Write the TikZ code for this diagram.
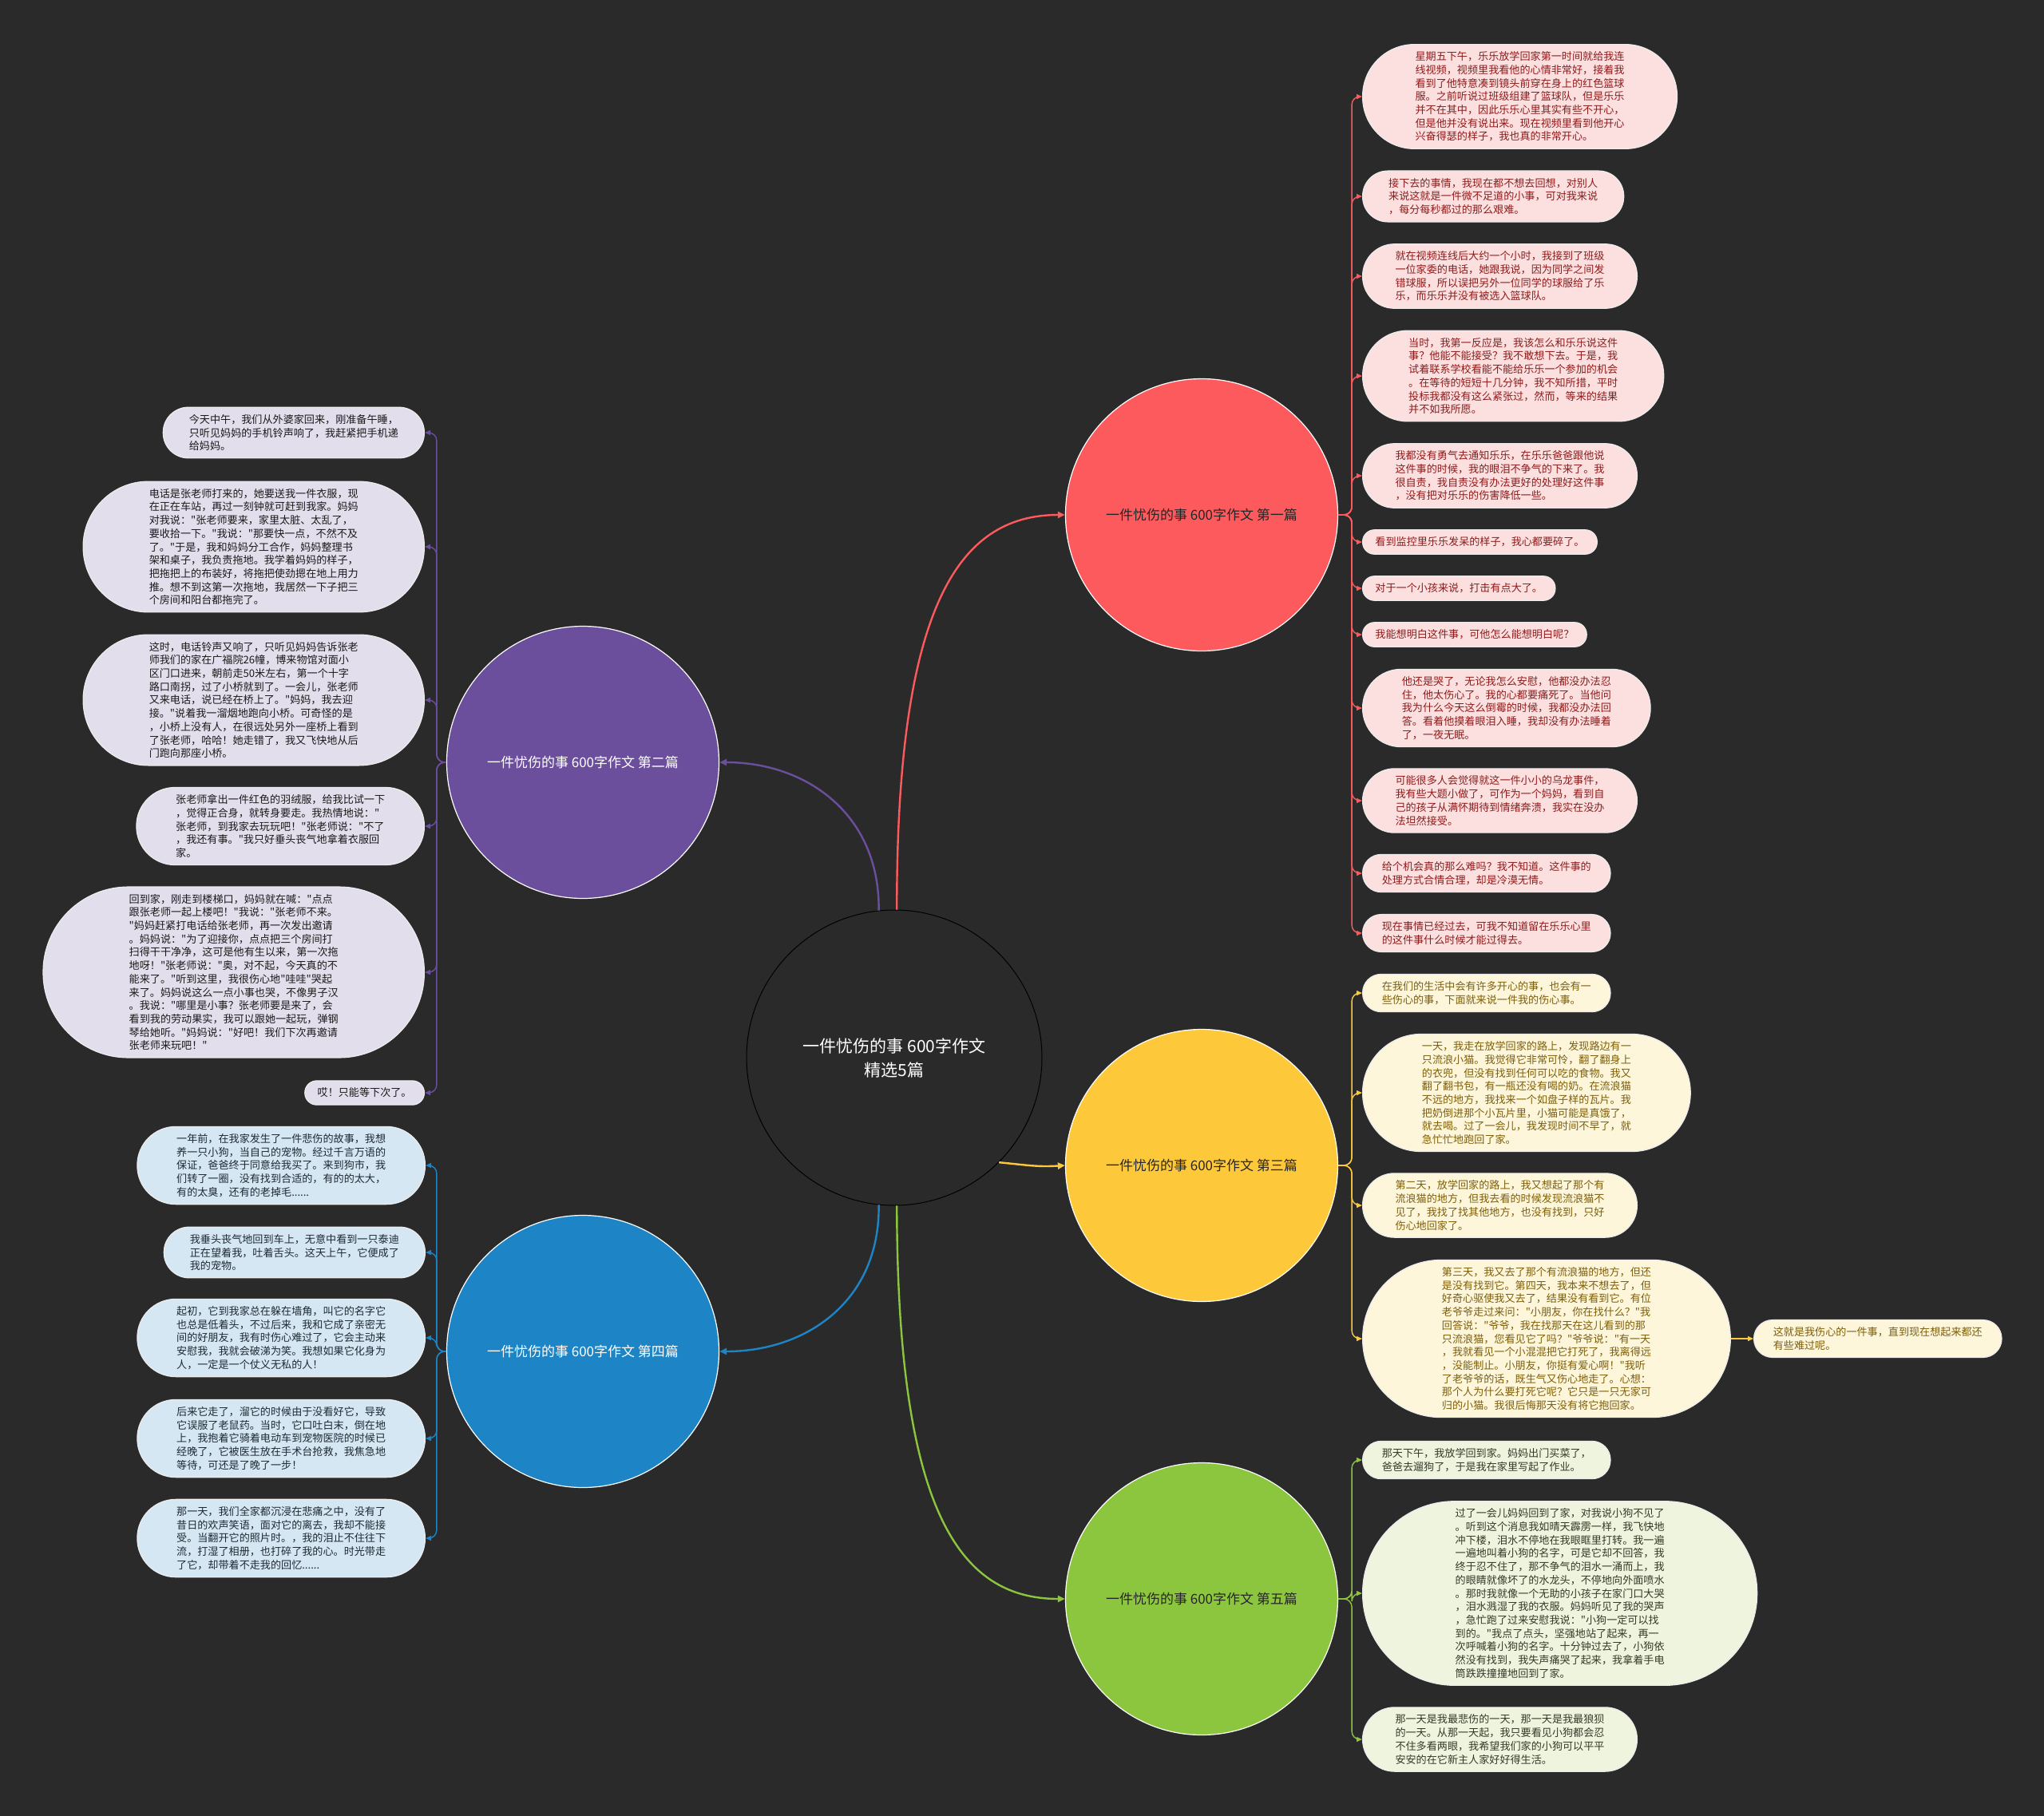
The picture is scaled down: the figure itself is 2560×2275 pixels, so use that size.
\documentclass[tikz,border=0pt]{standalone}
\usepackage{fontspec}
\setmainfont{Noto Sans CJK SC}[Ligatures=TeXOff]
\usetikzlibrary{arrows.meta}
\definecolor{bg}{HTML}{2A2A2A}
\definecolor{cred}{HTML}{FC5A5D}
\definecolor{cpur}{HTML}{6B4F9C}
\definecolor{cyel}{HTML}{FDC93B}
\definecolor{cblu}{HTML}{1D85C6}
\definecolor{cgrn}{HTML}{8CC63F}
\definecolor{lred}{HTML}{FCE0E0}
\definecolor{tred}{HTML}{8E1B1B}
\definecolor{lyel}{HTML}{FDF6DA}
\definecolor{tyel}{HTML}{7D5E0A}
\definecolor{lgrn}{HTML}{EEF4DE}
\definecolor{tgrn}{HTML}{333A28}
\definecolor{lpur}{HTML}{E2DEEC}
\definecolor{tpur}{HTML}{1A1A1A}
\definecolor{lblu}{HTML}{D6E7F4}
\definecolor{tblu}{HTML}{1E2A33}
\begin{document}
\begin{tikzpicture}[x=1pt,y=-1pt,
  leaf/.style={rectangle, inner ysep=9pt, inner xsep={(16.7*#1+15)/2},
    rounded corners={(16.7*#1+13)/2}, align=left,
    font=\fontsize{13.1}{16.7}\selectfont, draw=white!85!gray, line width=1.2pt},
  rleaf/.style={leaf=#1, fill=lred, text=tred},
  yleaf/.style={leaf=#1, fill=lyel, text=tyel},
  gleaf/.style={leaf=#1, fill=lgrn, text=tgrn},
  pleaf/.style={leaf=#1, fill=lpur, text=tpur},
  bleaf/.style={leaf=#1, fill=lblu, text=tblu},
  mainc/.style={circle, minimum size=341pt, inner sep=0pt, draw=white, line width=1.2pt,
    font=\fontsize{17}{20}\selectfont},
  conn/.style={line width=2.4pt, -{Triangle[length=9pt,width=8pt]}},
  lconn/.style={line width=1.4pt, rounded corners=10pt, -{Triangle[length=7pt,width=6pt]}}
]
\useasboundingbox (0,0) rectangle (2560,2275);
\fill[bg] (0,0) rectangle (2560,2275);

% center
\node[circle, minimum size=370pt, inner sep=0pt, draw=black, line width=1pt, fill=bg, text=white,
  align=center, font=\fontsize{21}{30}\selectfont] (C) at (1120,1325) {一件忧伤的事 600字作文\\精选5篇};

% main topics
\node[mainc, fill=cred, text=black!85] (R) at (1505,645) {一件忧伤的事 600字作文 第一篇};
\node[mainc, fill=cpur, text=white] (P) at (730,955) {一件忧伤的事 600字作文 第二篇};
\node[mainc, fill=cyel, text=black!85] (Y) at (1505,1460) {一件忧伤的事 600字作文 第三篇};
\node[mainc, fill=cblu, text=white] (B) at (730,1693) {一件忧伤的事 600字作文 第四篇};
\node[mainc, fill=cgrn, text=black!85] (G) at (1505,2003) {一件忧伤的事 600字作文 第五篇};

\draw[conn, cred] (C.89) .. controls (1123,760) and (1200,645) .. (R.west);
\draw[conn, cpur] (C.96) .. controls (1102,1020) and (1010,955) .. (P.east);
\draw[conn, cyel] (C.-45) .. controls (1290,1460) and (1300,1462) .. (Y.west);
\draw[conn, cblu] (C.-96) .. controls (1102,1630) and (1010,1693) .. (B.east);
\draw[conn, cgrn] (C.-89) .. controls (1124,1890) and (1200,2003) .. (G.west);

% red leaves
\node[rleaf=7, anchor=west] (r1) at (1706,121) {星期五下午，乐乐放学回家第一时间就给我连\\线视频，视频里我看他的心情非常好，接着我\\看到了他特意凑到镜头前穿在身上的红色篮球\\服。之前听说过班级组建了篮球队，但是乐乐\\并不在其中，因此乐乐心里其实有些不开心，\\但是他并没有说出来。现在视频里看到他开心\\兴奋得瑟的样子，我也真的非常开心。};
\node[rleaf=3, anchor=west] (r2) at (1706,246) {接下去的事情，我现在都不想去回想，对别人\\来说这就是一件微不足道的小事，可对我来说\\，每分每秒都过的那么艰难。};
\node[rleaf=4, anchor=west] (r3) at (1706,346) {就在视频连线后大约一个小时，我接到了班级\\一位家委的电话，她跟我说，因为同学之间发\\错球服，所以误把另外一位同学的球服给了乐\\乐，而乐乐并没有被选入篮球队。};
\node[rleaf=6, anchor=west] (r4) at (1706,471) {当时，我第一反应是，我该怎么和乐乐说这件\\事？他能不能接受？我不敢想下去。于是，我\\试着联系学校看能不能给乐乐一个参加的机会\\。在等待的短短十几分钟，我不知所措，平时\\投标我都没有这么紧张过，然而，等来的结果\\并不如我所愿。};
\node[rleaf=4, anchor=west] (r5) at (1706,596) {我都没有勇气去通知乐乐，在乐乐爸爸跟他说\\这件事的时候，我的眼泪不争气的下来了。我\\很自责，我自责没有办法更好的处理好这件事\\，没有把对乐乐的伤害降低一些。};
\node[rleaf=1, anchor=west] (r6) at (1706,679) {看到监控里乐乐发呆的样子，我心都要碎了。};
\node[rleaf=1, anchor=west] (r7) at (1706,737) {对于一个小孩来说，打击有点大了。};
\node[rleaf=1, anchor=west] (r8) at (1706,795) {我能想明白这件事，可他怎么能想明白呢？};
\node[rleaf=5, anchor=west] (r9) at (1706,887) {他还是哭了，无论我怎么安慰，他都没办法忍\\住，他太伤心了。我的心都要痛死了。当他问\\我为什么今天这么倒霉的时候，我都没办法回\\答。看着他摸着眼泪入睡，我却没有办法睡着\\了，一夜无眠。};
\node[rleaf=4, anchor=west] (r10) at (1706,1003) {可能很多人会觉得就这一件小小的乌龙事件，\\我有些大题小做了，可作为一个妈妈，看到自\\己的孩子从满怀期待到情绪奔溃，我实在没办\\法坦然接受。};
\node[rleaf=2, anchor=west] (r11) at (1706,1094) {给个机会真的那么难吗？我不知道。这件事的\\处理方式合情合理，却是冷漠无情。};
\node[rleaf=2, anchor=west] (r12) at (1706,1169) {现在事情已经过去，可我不知道留在乐乐心里\\的这件事什么时候才能过得去。};
\foreach \n in {r1,r2,r3,r4,r5,r6,r7,r8,r9,r10,r11,r12}
  \draw[lconn, cred] (R.east) -- ++(17,0) |- (\n.west);

% purple leaves
\node[pleaf=3, anchor=east] (p1) at (532,542) {今天中午，我们从外婆家回来，刚准备午睡，\\只听见妈妈的手机铃声响了，我赶紧把手机递\\给妈妈。};
\node[pleaf=9, anchor=east] (p2) at (532,685) {电话是张老师打来的，她要送我一件衣服，现\\在正在车站，再过一刻钟就可赶到我家。妈妈\\对我说："张老师要来，家里太脏、太乱了，\\要收拾一下。"我说："那要快一点，不然不及\\了。"于是，我和妈妈分工合作，妈妈整理书\\架和桌子，我负责拖地。我学着妈妈的样子，\\把拖把上的布装好，将拖把使劲摁在地上用力\\推。想不到这第一次拖地，我居然一下子把三\\个房间和阳台都拖完了。};
\node[pleaf=9, anchor=east] (p3) at (532,877) {这时，电话铃声又响了，只听见妈妈告诉张老\\师我们的家在广福院26幢，博来物馆对面小\\区门口进来，朝前走50米左右，第一个十字\\路口南拐，过了小桥就到了。一会儿，张老师\\又来电话，说已经在桥上了。"妈妈，我去迎\\接。"说着我一溜烟地跑向小桥。可奇怪的是\\，小桥上没有人，在很远处另外一座桥上看到\\了张老师，哈哈！她走错了，我又飞快地从后\\门跑向那座小桥。};
\node[pleaf=5, anchor=east] (p4) at (532,1035) {张老师拿出一件红色的羽绒服，给我比试一下\\，觉得正合身，就转身要走。我热情地说："\\张老师，到我家去玩玩吧！"张老师说："不了\\，我还有事。"我只好垂头丧气地拿着衣服回\\家。};
\node[pleaf=12, anchor=east] (p5) at (532,1218) {回到家，刚走到楼梯口，妈妈就在喊："点点\\跟张老师一起上楼吧！"我说："张老师不来。\\"妈妈赶紧打电话给张老师，再一次发出邀请\\。妈妈说："为了迎接你，点点把三个房间打\\扫得干干净净，这可是他有生以来，第一次拖\\地呀！"张老师说："奥，对不起，今天真的不\\能来了。"听到这里，我很伤心地"哇哇"哭起\\来了。妈妈说这么一点小事也哭，不像男子汉\\。我说："哪里是小事？张老师要是来了，会\\看到我的劳动果实，我可以跟她一起玩，弹钢\\琴给她听。"妈妈说："好吧！我们下次再邀请\\张老师来玩吧！"};
\node[pleaf=1, anchor=east] (p6) at (532,1369) {哎！只能等下次了。};
\foreach \n in {p1,p2,p3,p4,p5,p6}
  \draw[lconn, cpur] (P.west) -- ++(-12,0) |- (\n.east);

% yellow leaves
\node[yleaf=2, anchor=west] (y1) at (1706,1244) {在我们的生活中会有许多开心的事，也会有一\\些伤心的事，下面就来说一件我的伤心事。};
\node[yleaf=8, anchor=west] (y2) at (1706,1369) {一天，我走在放学回家的路上，发现路边有一\\只流浪小猫。我觉得它非常可怜，翻了翻身上\\的衣兜，但没有找到任何可以吃的食物。我又\\翻了翻书包，有一瓶还没有喝的奶。在流浪猫\\不远的地方，我找来一个如盘子样的瓦片。我\\把奶倒进那个小瓦片里，小猫可能是真饿了，\\就去喝。过了一会儿，我发现时间不早了，就\\急忙忙地跑回了家。};
\node[yleaf=4, anchor=west] (y3) at (1706,1510) {第二天，放学回家的路上，我又想起了那个有\\流浪猫的地方，但我去看的时候发现流浪猫不\\见了，我找了找其他地方，也没有找到，只好\\伤心地回家了。};
\node[yleaf=11, anchor=west] (y4) at (1706,1677) {第三天，我又去了那个有流浪猫的地方，但还\\是没有找到它。第四天，我本来不想去了，但\\好奇心驱使我又去了，结果没有看到它。有位\\老爷爷走过来问："小朋友，你在找什么？"我\\回答说："爷爷，我在找那天在这儿看到的那\\只流浪猫，您看见它了吗？"爷爷说："有一天\\，我就看见一个小混混把它打死了，我离得远\\，没能制止。小朋友，你挺有爱心啊！"我听\\了老爷爷的话，既生气又伤心地走了。心想：\\那个人为什么要打死它呢？它只是一只无家可\\归的小猫。我很后悔那天没有将它抱回家。};
\node[yleaf=2, anchor=west] (y5) at (2196,1677) {这就是我伤心的一件事，直到现在想起来都还\\有些难过呢。};
\foreach \n in {y1,y2,y3,y4}
  \draw[lconn, cyel] (Y.east) -- ++(17,0) |- (\n.west);
\draw[lconn, cyel] (y4.east) -- (y5.west);

% blue leaves
\node[bleaf=5, anchor=east] (b1) at (533,1460) {一年前，在我家发生了一件悲伤的故事，我想\\养一只小狗，当自己的宠物。经过千言万语的\\保证，爸爸终于同意给我买了。来到狗市，我\\们转了一圈，没有找到合适的，有的的太大，\\有的太臭，还有的老掉毛......};
\node[bleaf=3, anchor=east] (b2) at (533,1569) {我垂头丧气地回到车上，无意中看到一只泰迪\\正在望着我，吐着舌头。这天上午，它便成了\\我的宠物。};
\node[bleaf=5, anchor=east] (b3) at (533,1676) {起初，它到我家总在躲在墙角，叫它的名字它\\也总是低着头，不过后来，我和它成了亲密无\\间的好朋友，我有时伤心难过了，它会主动来\\安慰我，我就会破涕为笑。我想如果它化身为\\人，一定是一个仗义无私的人！};
\node[bleaf=5, anchor=east] (b4) at (533,1802) {后来它走了，溜它的时候由于没看好它，导致\\它误服了老鼠药。当时，它口吐白末，倒在地\\上，我抱着它骑着电动车到宠物医院的时候已\\经晚了，它被医生放在手术台抢救，我焦急地\\等待，可还是了晚了一步！};
\node[bleaf=5, anchor=east] (b5) at (533,1927) {那一天，我们全家都沉浸在悲痛之中，没有了\\昔日的欢声笑语，面对它的离去，我却不能接\\受。当翻开它的照片时。，我的泪止不住往下\\流，打湿了相册，也打碎了我的心。时光带走\\了它，却带着不走我的回忆......};
\foreach \n in {b1,b2,b3,b4,b5}
  \draw[lconn, cblu] (B.west) -- ++(-12,0) |- (\n.east);

% green leaves
\node[gleaf=2, anchor=west] (g1) at (1706,1829) {那天下午，我放学回到家。妈妈出门买菜了，\\爸爸去遛狗了，于是我在家里写起了作业。};
\node[gleaf=13, anchor=west] (g2) at (1706,1996) {过了一会儿妈妈回到了家，对我说小狗不见了\\。听到这个消息我如晴天霹雳一样，我飞快地\\冲下楼，泪水不停地在我眼眶里打转。我一遍\\一遍地叫着小狗的名字，可是它却不回答，我\\终于忍不住了，那不争气的泪水一涌而上，我\\的眼睛就像坏了的水龙头，不停地向外面喷水\\。那时我就像一个无助的小孩子在家门口大哭\\，泪水溅湿了我的衣服。妈妈听见了我的哭声\\，急忙跑了过来安慰我说："小狗一定可以找\\到的。"我点了点头，坚强地站了起来，再一\\次呼喊着小狗的名字。十分钟过去了，小狗依\\然没有找到，我失声痛哭了起来，我拿着手电\\筒跌跌撞撞地回到了家。};
\node[gleaf=4, anchor=west] (g3) at (1706,2179) {那一天是我最悲伤的一天，那一天是我最狼狈\\的一天。从那一天起，我只要看见小狗都会忍\\不住多看两眼，我希望我们家的小狗可以平平\\安安的在它新主人家好好得生活。};
\foreach \n in {g1,g2,g3}
  \draw[lconn, cgrn] (G.east) -- ++(17,0) |- (\n.west);
\end{tikzpicture}
\end{document}
